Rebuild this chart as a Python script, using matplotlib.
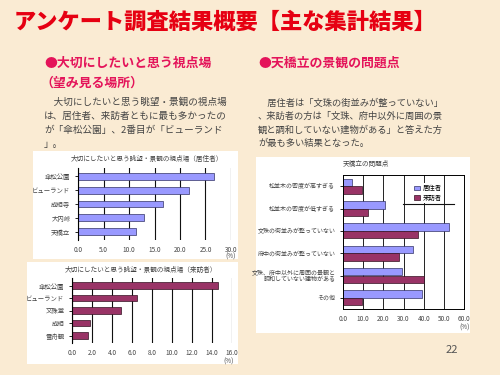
import matplotlib
matplotlib.use("Agg")
import matplotlib.pyplot as plt
from matplotlib.patches import Rectangle
from matplotlib.lines import Line2D
import numpy as np

plt.rcParams['font.family'] = ['Noto Sans CJK JP', 'DejaVu Sans']

# ---------------- data ----------------
res_places = ["傘松公園", "ビューランド", "成相寺", "大内峠", "天橋立"]
res_values = [26.7, 21.7, 16.6, 12.9, 11.3]
res_ticks = [0, 5, 10, 15, 20, 25, 30]

vis_places = ["傘松公園", "ビューランド", "文殊堂", "成相", "雪舟観"]
vis_values = [14.6, 6.5, 4.9, 1.8, 1.6]
vis_ticks = [0, 2, 4, 6, 8, 10, 12, 14, 16]

issues = ["松並木の密度が高すぎる", "松並木の密度が低すぎる", "文珠の街並みが整っていない",
          "府中の街並みが整っていない", "文珠、府中以外に周囲の景観と\n調和していない建物がある", "その他"]
issue_res = [4.5, 20.7, 52.6, 34.7, 29.3, 39.3]
issue_vis = [9.4, 12.4, 37.2, 27.8, 40.2, 9.4]
issue_ticks = [0, 10, 20, 30, 40, 50, 60]
series_names = ["居住者", "来訪者"]

W, H = 500, 375
BG = "#FAEBD3"
BLUE = "#9999FF"
MAROON = "#993366"
TXT = "#444444"

fig = plt.figure(figsize=(5, 3.75), dpi=100, facecolor=BG)

def fx(x):
    return x / W

def fy(y):
    return 1 - y / H

def add_ax(l, t, r, b):
    ax = fig.add_axes([fx(l), fy(b), (r - l) / W, (b - t) / H])
    ax.set_zorder(2)
    return ax

# white chart panels
for (l, t, r, b) in [(33, 151, 238, 259), (27, 262, 238, 364), (256, 157, 470, 333)]:
    fig.patches.append(Rectangle((fx(l), fy(b)), (r - l) / W, (b - t) / H,
                                 transform=fig.transFigure, facecolor="white",
                                 edgecolor="none", zorder=-1))

# ---------------- text ----------------
fig.text(fx(14), fy(22), "アンケート調査結果概要【主な集計結果】", color="#E60012",
         fontsize=16, fontweight="heavy", va="center", ha="left")
HEAD = "#E4145A"
fig.text(fx(44), fy(63), "●大切にしたいと思う視点場", color=HEAD, fontsize=9.3,
         fontweight="bold", va="center")
fig.text(fx(40), fy(83), "（望み見る場所）", color=HEAD, fontsize=9.3,
         fontweight="bold", va="center")
fig.text(fx(258), fy(63), "●天橋立の景観の問題点", color=HEAD, fontsize=9.3,
         fontweight="bold", va="center")

left_par = ["　大切にしたいと思う眺望・景観の視点場",
            "は、居住者、来訪者ともに最も多かったの",
            "が「傘松公園」、2番目が「ビューランド",
            "」。"]
right_par = ["　居住者は「文珠の街並みが整っていない」",
             "、来訪者の方は「文珠、府中以外に周囲の景",
             "観と調和していない建物がある」と答えた方",
             "が最も多い結果となった。"]
for i, s in enumerate(left_par):
    fig.text(fx(44), fy(102 + i * 14), s, color=TXT, fontsize=6.9, va="center")
for i, s in enumerate(right_par):
    fig.text(fx(258), fy(103 + i * 13.5), s, color=TXT, fontsize=6.7, va="center")

fig.text(fx(452), fy(350), "22", color="#555555", fontsize=8, va="center", ha="center")

SMALL = 4.6

def style_left(ax, ticks):
    ax.set_facecolor("white")
    ax.set_xlim(ticks[0], ticks[-1])
    ax.set_xticks(ticks)
    ax.set_xticklabels([f"{t:.1f}" for t in ticks], fontsize=SMALL, color=TXT)
    ax.tick_params(axis="y", labelsize=SMALL, labelcolor=TXT, length=2, width=0.6)
    ax.tick_params(axis="x", length=0, pad=4)
    ax.grid(axis="x", color="#111111", linewidth=0.8)
    ax.set_axisbelow(True)
    for s in ["top", "right", "bottom"]:
        ax.spines[s].set_visible(False)
    ax.spines["left"].set_linewidth(0.8)

# top-left chart
ax1 = add_ax(78, 168, 231, 240)
y1 = np.arange(len(res_places))
ax1.barh(y1, res_values, height=0.5, color=BLUE, edgecolor="#333366", linewidth=0.5)
ax1.set_yticks(y1)
ax1.set_yticklabels(res_places)
ax1.set_ylim(len(res_places) - 0.4, -0.6)
style_left(ax1, res_ticks)
fig.text(fx(147), fy(159), "大切にしたいと思う眺望・景観の視点場（居住者）", fontsize=4.8,
         color=TXT, ha="center", va="center")
fig.text(fx(231), fy(257), "(%)", fontsize=SMALL, color=TXT, ha="center", va="center")

# bottom-left chart
ax2 = add_ax(72, 278, 232, 343)
y2 = np.arange(len(vis_places))
ax2.barh(y2, vis_values, height=0.5, color=MAROON, edgecolor="#331122", linewidth=0.5)
ax2.set_yticks(y2)
ax2.set_yticklabels(vis_places)
ax2.set_ylim(len(vis_places) - 0.4, -0.6)
style_left(ax2, vis_ticks)
fig.text(fx(141), fy(270), "大切にしたいと思う眺望・景観の視点場（来訪者）", fontsize=4.8,
         color=TXT, ha="center", va="center")
fig.text(fx(229), fy(362), "(%)", fontsize=SMALL, color=TXT, ha="center", va="center")

# right chart
ax3 = add_ax(343, 175, 464, 309)
y3 = np.arange(len(issues))
bh = 0.34
ax3.barh(y3 - bh / 2, issue_res, height=bh, color=BLUE, edgecolor="#333366",
         linewidth=0.5, label=series_names[0])
ax3.barh(y3 + bh / 2, issue_vis, height=bh, color=MAROON, edgecolor="#331122",
         linewidth=0.5, label=series_names[1])
ax3.set_yticks(y3)
ax3.set_yticklabels(issues, linespacing=1.1)
ax3.set_ylim(len(issues) - 0.5, -0.5)
ax3.set_xlim(issue_ticks[0], issue_ticks[-1])
ax3.set_xticks(issue_ticks)
ax3.set_xticklabels([f"{t:.1f}" for t in issue_ticks], fontsize=SMALL, color=TXT)
ax3.tick_params(axis="y", labelsize=4.3, labelcolor=TXT, length=2, width=0.6)
ax3.tick_params(axis="x", length=0, pad=4)
ax3.grid(axis="x", color="#222222", linewidth=0.7)
ax3.set_axisbelow(True)
for s in ax3.spines.values():
    s.set_linewidth(0.7)
leg = ax3.legend(loc="center left", bbox_to_anchor=(fx(410), fy(193)),
                 bbox_transform=fig.transFigure, fontsize=SMALL, frameon=True,
                 facecolor="white", edgecolor="none", framealpha=1,
                 handlelength=0.9, handleheight=0.7, labelspacing=0.2, borderpad=0.2,
                 handletextpad=0.4)
fig.lines.append(Line2D([fx(403), fx(454)], [fy(204), fy(204)], color="#111111",
                        linewidth=0.8, transform=fig.transFigure, zorder=5))
fig.text(fx(343), fy(164), "天橋立の問題点", fontsize=4.8, color=TXT, ha="left", va="center")
fig.text(fx(465), fy(328), "(%)", fontsize=SMALL, color=TXT, ha="center", va="center")

fig.savefig("out.png", dpi=100, facecolor=BG)
